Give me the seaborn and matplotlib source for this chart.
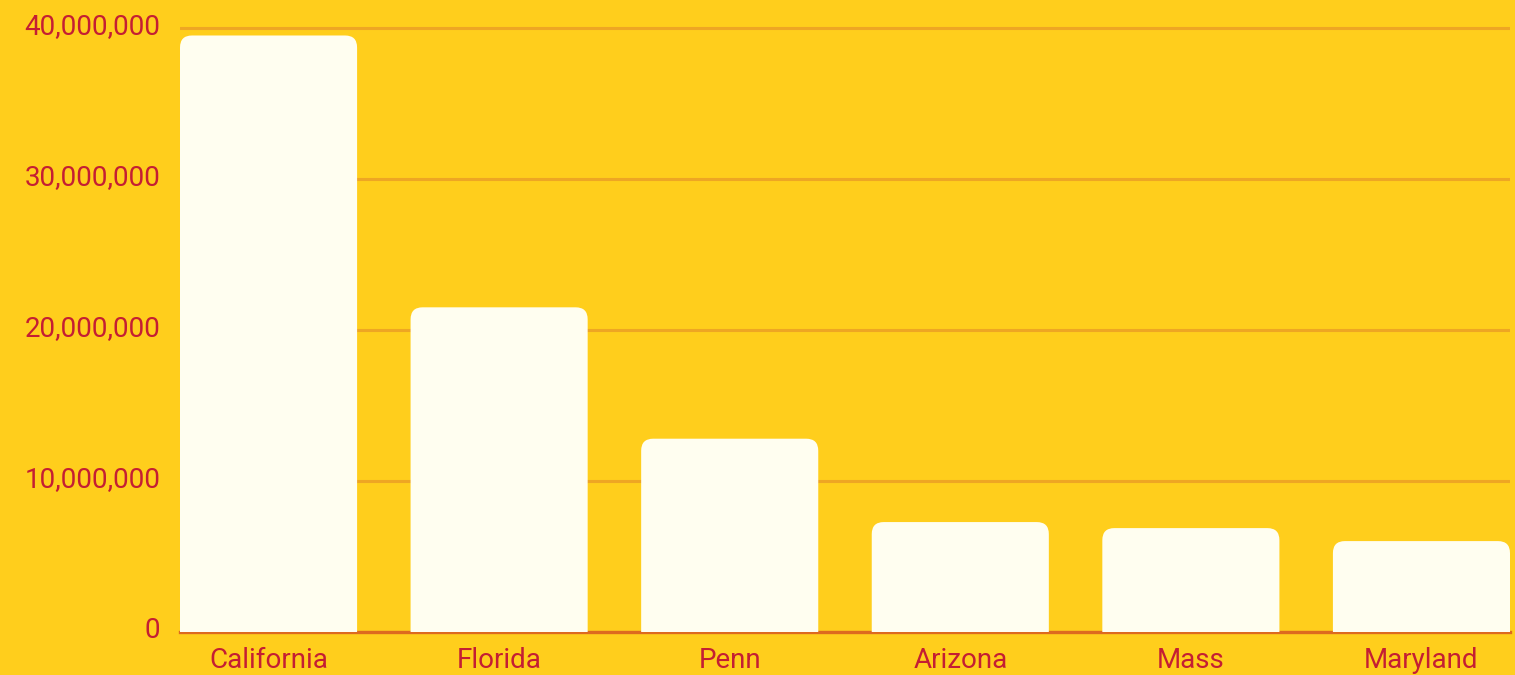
import matplotlib
matplotlib.use("Agg")
from matplotlib import pyplot as plt
from matplotlib.patches import FancyBboxPatch
from matplotlib.ticker import FuncFormatter
from matplotlib.transforms import ScaledTranslation
import seaborn as sns
import pandas as pd

# data
states = ["California", "Florida", "Penn", "Arizona", "Mass", "Maryland"]
population = [39500000, 21500000, 12800000, 7280000, 6880000, 6020000]

bg = "#FFCE1C"
bar_col = "#FFFEF0"
grid_col = "#EEA623"
base_col = "#DD6A1F"
text_col = "#C41E33"

sns.set_style("white")
plt.rcParams["font.family"] = ["Roboto", "DejaVu Sans"]

df = pd.DataFrame({"state": states, "pop": population})

fig = plt.figure(figsize=(15.15, 6.75), dpi=100, facecolor=bg)
ax = fig.add_axes([180 / 1515, 43 / 675, 1330 / 1515, 632 / 675])
ax.set_facecolor(bg)

sns.barplot(data=df, x="state", y="pop", color=bar_col, saturation=1,
            width=0.768, ax=ax, zorder=3)

ax.set_xlim(-0.384, 5.384)
ax.set_ylim(0, 41.85e6)

# rounded top corners, bottom hidden under the axis clip
r = 12  # px
px_x = 1330 / 5.768
px_y = 632 / 41.85e6
rx = r / px_x
ry = r / px_y
for p in list(ax.patches):
    x, w, h = p.get_x(), p.get_width(), p.get_height()
    p.set_visible(False)
    fb = FancyBboxPatch((x + rx, -2 * ry), w - 2 * rx, h + ry,
                        boxstyle="round,pad=%f" % rx,
                        mutation_aspect=ry / rx,
                        fc=bar_col, ec="none", zorder=3)
    ax.add_patch(fb)

ax.set_yticks([0, 10e6, 20e6, 30e6, 40e6])
ax.yaxis.set_major_formatter(FuncFormatter(lambda v, _: "{:,.0f}".format(v)))
ax.grid(axis="y", color=grid_col, linewidth=2.2, zorder=0)
ax.set_axisbelow(True)
for s in ["top", "right", "left"]:
    ax.spines[s].set_visible(False)
ax.spines["bottom"].set_color(base_col)
ax.spines["bottom"].set_linewidth(2.4)
ax.spines["bottom"].set_zorder(2)

ax.tick_params(axis="both", length=0, labelcolor=text_col, labelsize=20)
ax.tick_params(axis="y", pad=14)
ax.tick_params(axis="x", pad=11)
for lab in ax.get_yticklabels():
    lab.set_transform(lab.get_transform() + ScaledTranslation(0, 0.04, fig.dpi_scale_trans))
ax.set_xlabel("")
ax.set_ylabel("")

fig.savefig("out.png", dpi=100, facecolor=bg)
